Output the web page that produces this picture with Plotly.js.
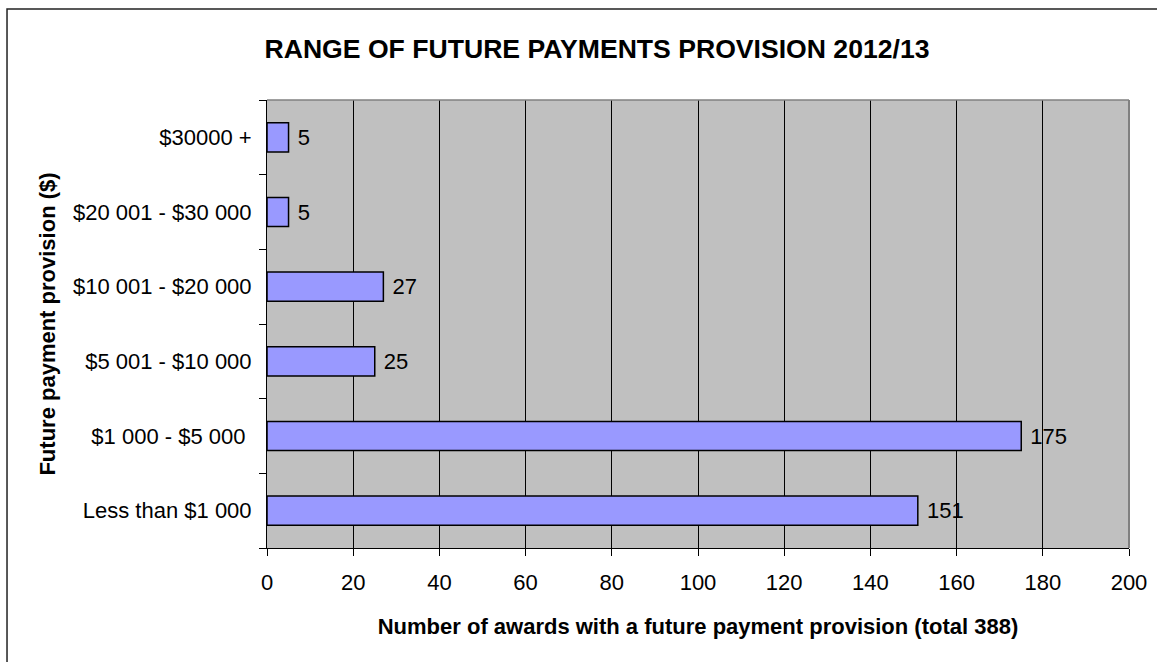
<!DOCTYPE html>
<html>
<head>
<meta charset="utf-8">
<script src="https://cdn.plot.ly/plotly-3.0.1.min.js"></script>
<style>
  html, body { margin: 0; padding: 0; background: #ffffff; }
  #chart { width: 1157px; height: 662px; }
</style>
</head>
<body>
<div id="chart"></div>
<script>
const categories = [
  "Less than $1 000",
  "$1 000 - $5 000 ",
  "$5 001 - $10 000",
  "$10 001 - $20 000",
  "$20 001 - $30 000",
  "$30000 +"
];
const awards = [151, 175, 25, 27, 5, 5];
const xTicks = [0, 20, 40, 60, 80, 100, 120, 140, 160, 180, 200];

const FONT = "Liberation Sans, Arial, sans-serif";

const trace = {
  type: "bar",
  orientation: "h",
  y: categories,
  x: awards,
  texttemplate: "\u00a0%{x}",
  textposition: "outside",
  cliponaxis: false,
  textfont: { family: FONT, size: 22, color: "#000000" },
  marker: { color: "#9999FF", line: { color: "#000000", width: 1.5 } },
  hoverinfo: "x+y"
};

const layout = {
  width: 1157,
  height: 662,
  margin: { l: 267, r: 28, t: 100, b: 114 },
  paper_bgcolor: "#ffffff",
  plot_bgcolor: "#C0C0C0",
  showlegend: false,
  bargap: 0.61,
  font: { family: FONT, color: "#000000" },
  title: {
    text: "<b>RANGE OF FUTURE PAYMENTS PROVISION 2012/13</b>",
    font: { family: FONT, size: 26.6, color: "#000000" },
    xref: "container",
    x: 0.516,
    xanchor: "center",
    yref: "container",
    y: 0.927,
    yanchor: "middle"
  },
  xaxis: {
    range: [0, 200],
    tickvals: xTicks,
    ticktext: xTicks.map(String),
    showgrid: true,
    gridcolor: "#000000",
    gridwidth: 1,
    zeroline: false,
    showline: true,
    linecolor: "#000000",
    linewidth: 1,
    ticks: "outside",
    ticklen: 7,
    tickcolor: "#000000",
    ticklabelstandoff: 8,
    tickfont: { family: FONT, size: 22, color: "#000000" },
    title: {
      text: "<b>Number of awards with a future payment provision (total 388)</b>",
      font: { family: FONT, size: 22, color: "#000000" },
      standoff: 24
    },
    fixedrange: true
  },
  yaxis: {
    type: "category",
    categoryorder: "array",
    categoryarray: categories,
    showgrid: false,
    zeroline: false,
    showline: true,
    linecolor: "#000000",
    linewidth: 1,
    ticks: "outside",
    tickson: "boundaries",
    ticklen: 7,
    tickcolor: "#000000",
    ticklabelstandoff: 10,
    tickfont: { family: FONT, size: 22, color: "#000000" },
    title: {
      text: "<b>Future payment provision ($)</b>",
      font: { family: FONT, size: 22, color: "#000000" },
      standoff: 11
    },
    fixedrange: true
  },
  shapes: [
    { type: "line", xref: "paper", yref: "paper", x0: 0, x1: 1, y0: 1, y1: 1,
      line: { color: "#808080", width: 1.5 } },
    { type: "line", xref: "paper", yref: "paper", x0: 1, x1: 1, y0: 0, y1: 1,
      line: { color: "#808080", width: 2 } },
    { type: "rect", xref: "paper", yref: "paper", x0: -0.3016, x1: 1.2, y0: -0.6, y1: 1.2031,
      line: { color: "#222222", width: 1.5 }, fillcolor: "rgba(0,0,0,0)", layer: "above" }
  ]
};

Plotly.newPlot("chart", [trace], layout, { displayModeBar: false, staticPlot: true });
</script>
</body>
</html>
